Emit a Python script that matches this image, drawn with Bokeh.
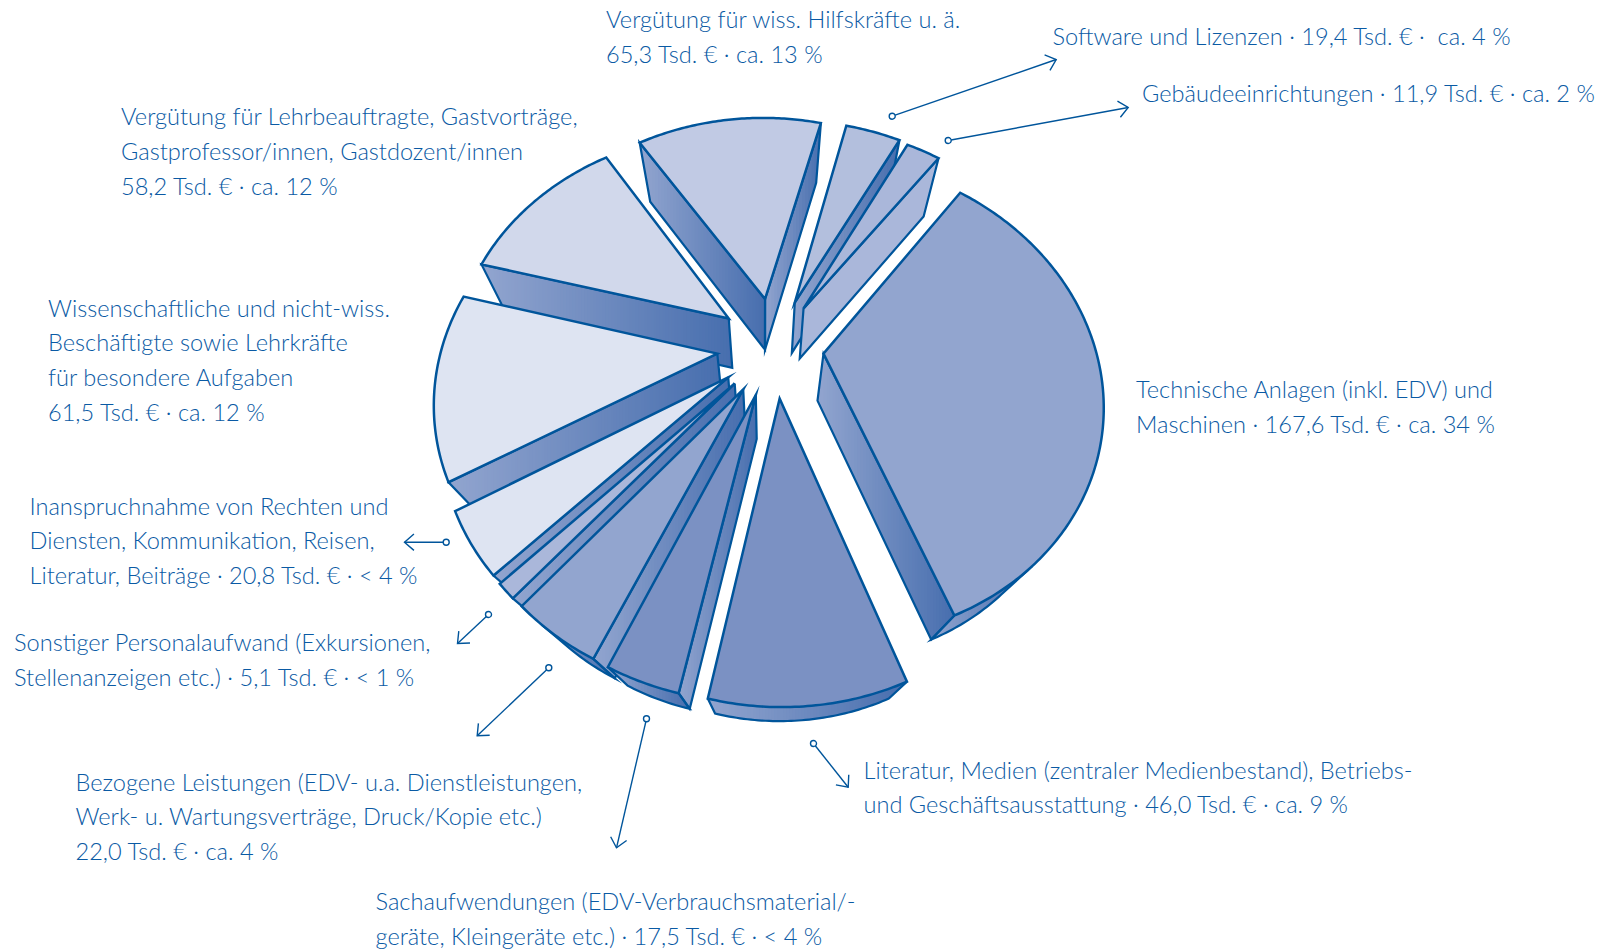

import numpy as np
from bokeh.plotting import figure
from bokeh.models import Range1d
from bokeh.core.properties import value
from bokeh.embed import file_html
from bokeh.resources import INLINE

# ---- data (clockwise, starting at the large slice) ----
categories = ["Technische Anlagen", "Literatur, Medien", "Sachaufwendungen", "Bezogene Leistungen",
              "Sonstiger Personalaufwand", "Inanspruchnahme", "Wiss. Beschäftigte", "Lehrbeauftragte",
              "Hilfskräfte", "Software", "Gebäudeeinrichtungen"]
values = [167.6, 46.0, 17.5, 22.0, 5.1, 20.8, 61.5, 58.2, 65.3, 19.4, 11.9]
top_colors = ["#92A5CF", "#7B91C3", "#7B91C3", "#92A5CF", "#AAB7DA", "#DEE4F2",
              "#DEE4F2", "#D1D8EB", "#C1CAE4", "#B3BFDD", "#AAB7DA"]
label_lines = [
    ["Technische Anlagen (inkl. EDV) und", "Maschinen · 167,6 Tsd. € · ca. 34 %"],
    ["Literatur, Medien (zentraler Medienbestand), Betriebs-", "und Geschäftsausstattung · 46,0 Tsd. € · ca. 9 %"],
    ["Sachaufwendungen (EDV-Verbrauchsmaterial/-", "geräte, Kleingeräte etc.) · 17,5 Tsd. € · < 4 %"],
    ["Bezogene Leistungen (EDV- u.a. Dienstleistungen,", "Werk- u. Wartungsverträge, Druck/Kopie etc.)", "22,0 Tsd. € · ca. 4 %"],
    ["Sonstiger Personalaufwand (Exkursionen,", "Stellenanzeigen etc.) · 5,1 Tsd. € · < 1 %"],
    ["Inanspruchnahme von Rechten und", "Diensten, Kommunikation, Reisen,", "Literatur, Beiträge · 20,8 Tsd. € · < 4 %"],
    ["Wissenschaftliche und nicht-wiss.", "Beschäftigte sowie Lehrkräfte", "für besondere Aufgaben", "61,5 Tsd. € · ca. 12 %"],
    ["Vergütung für Lehrbeauftragte, Gastvorträge,", "Gastprofessor/innen, Gastdozent/innen", "58,2 Tsd. € · ca. 12 %"],
    ["Vergütung für wiss. Hilfskräfte u. ä.", "65,3 Tsd. € · ca. 13 %"],
    ["Software und Lizenzen · 19,4 Tsd. € ·\u00a0 ca. 4 %"],
    ["Gebäudeeinrichtungen · 11,9 Tsd. € · ca. 2 %"],
]

# ---- layout (page pixels) ----
label_x = [1135.5, 863, 375, 75, 13.5, 29, 47.5, 120.5, 605.5, 1052, 1141.5]
label_y = [[388.5, 423.5], [769.5, 803.5], [900, 935], [781, 815.5, 850.5], [641, 676],
           [505.5, 539.5, 574.5], [307, 341, 376, 411], [115, 150, 185], [18.5, 53.5], [35], [92.5]]
leaders = [((891.7, 115.7), (1055.7, 59)), ((947.7, 140), (1127.7, 107)), ((445.7, 541.7), (404, 541.7)),
           ((488, 614), (457, 643)), ((548.3, 667.3), (476.7, 735.3)), ((646, 718.3), (616, 847.3)),
           ((813, 743), (847.7, 786.7))]
INK, TEXT = "#00559B", "#0A5AA4"
WALL_LIGHT, WALL_DARK = np.array([0x92, 0xA5, 0xCF]), np.array([0x47, 0x6E, 0xAE])

# projection of the pie's top plane, the slices' explosion, the extrusion's convergence
HOMO = [275.51, 145.82, 761.18, 5.2489, -167.3, 351.12, 0.0011837, 0.18421]
ROT0 = np.radians(53.90)
EXPL = [(0.225, -0.004), (0.067, -0.194), (-0.017, -0.181), (-0.062, -0.159), (-0.093, -0.136), (-0.117, -0.111),
        (-0.161, -0.012), (-0.126, 0.144), (0.008, 0.237), (0.121, 0.223), (0.154, 0.196)]
PAINT_ORDER = [8, 9, 10, 0, 7, 6, 5, 4, 3, 2, 1]
FLAT_WALL = {10: "#AAB7DA"}


def project(u, v):
    h = HOMO
    w = h[6] * u + h[7] * v + 1
    return np.column_stack([(h[0] * u + h[1] * v + h[2]) / w, (h[3] * u + h[4] * v + h[5]) / w])


def drop(P):
    x, y = P[:, 0], P[:, 1]
    dx = -(x - 764) * (0.085 + 0.00008 * (y - 150))
    dy = -6.454e-5 * y ** 2 - 0.02492 * y + 63.84
    return np.column_stack([x + dx, y + dy])


def clip_x(poly, lo):
    out = []
    for i in range(len(poly)):
        a, b = poly[i], poly[(i + 1) % len(poly)]
        ina, inb = a[0] >= lo, b[0] >= lo
        if ina:
            out.append(a)
        if ina != inb:
            t = (lo - a[0]) / (b[0] - a[0])
            out.append(a + t * (b - a))
    return out


def hexc(c):
    return "#%02X%02X%02X" % tuple(int(round(x)) for x in c)


p = figure(width=1611, height=949, output_backend="svg", toolbar_location=None,
           x_range=Range1d(0, 1611), y_range=Range1d(949, 0), min_border=0, outline_line_color=None)
p.axis.visible = False
p.grid.visible = False

vals = np.array(values)
sweeps = vals / vals.sum() * 2 * np.pi
starts = ROT0 - np.r_[0, np.cumsum(sweeps)[:-1]]

for i in PAINT_ORDER:
    a, b = starts[i], starts[i] - sweeps[i]
    n = max(8, int(np.degrees(sweeps[i]) * 1.5))
    t = np.linspace(a, b, n)
    dx, dy = EXPL[i]
    tip = project(np.array([dx]), np.array([dy]))
    arc = project(dx + np.cos(t), dy + np.sin(t))
    top = np.vstack([tip, arc])
    low = drop(top)
    area = 0.5 * np.sum(top[:, 0] * np.roll(top[:, 1], -1) - np.roll(top[:, 0], -1) * top[:, 1])

    def faces(j, k):
        e = top[k] - top[j]
        m = low[j] + low[k] - top[j] - top[k]
        return (e[0] * m[1] - e[1] * m[0]) * area < 0

    fill_xs, fill_ys, fill_c = [], [], []
    lines_x, lines_y = [], []

    def add_gradient(poly):
        if i in FLAT_WALL:
            fill_xs.append(list(poly[:, 0])); fill_ys.append(list(poly[:, 1])); fill_c.append(FLAT_WALL[i])
            return
        x0, x1 = poly[:, 0].min(), poly[:, 0].max()
        steps = max(2, int((x1 - x0) / 3))
        edges = np.linspace(x0, x1, steps + 1)
        for s in range(steps):
            part = clip_x(poly, edges[s])
            if len(part) >= 3:
                part = np.array(part)
                fill_xs.append(list(part[:, 0])); fill_ys.append(list(part[:, 1]))
                fill_c.append(hexc(WALL_LIGHT + (WALL_DARK - WALL_LIGHT) * (s + .5) / steps))

    # radial walls
    N = len(top)
    for j, k in [(0, 1), (N - 1, 0)]:
        if faces(j, k):
            quad = np.array([top[j], top[k], low[k], low[j]])
            add_gradient(quad)
            lines_x.append(list(quad[:, 0]) + [quad[0, 0]])
            lines_y.append(list(quad[:, 1]) + [quad[0, 1]])
    # outer wall
    vis = [j for j in range(1, N - 1) if faces(j, j + 1)]
    if vis:
        js = [vis[0]]
        runs = []
        for j in vis[1:]:
            if j == js[-1] + 1:
                js.append(j)
            else:
                runs.append(js); js = [j]
        runs.append(js)
        for run in runs:
            idx = run + [run[-1] + 1]
            poly = np.vstack([top[idx], low[idx][::-1]])
            add_gradient(poly)
            lines_x.append([top[idx[0], 0]] + list(low[idx, 0]) + [top[idx[-1], 0]])
            lines_y.append([top[idx[0], 1]] + list(low[idx, 1]) + [top[idx[-1], 1]])

    if fill_xs:
        p.patches(xs=fill_xs, ys=fill_ys, fill_color=fill_c, line_color=None)
    if lines_x:
        p.multi_line(xs=lines_x, ys=lines_y, line_color=INK, line_width=2.2, line_join="miter")
    p.patch(x=list(top[:, 0]), y=list(top[:, 1]), fill_color=top_colors[i], line_color=INK,
            line_width=2.5, line_join="miter")

# leaders
for (c, tipp) in leaders:
    c, tipp = np.array(c), np.array(tipp)
    ang = np.arctan2(*(c - tipp)[::-1])
    arm = 12.5
    hw = np.radians(41)
    a1 = tipp + arm * np.array([np.cos(ang + hw), np.sin(ang + hw)])
    a2 = tipp + arm * np.array([np.cos(ang - hw), np.sin(ang - hw)])
    p.line([c[0], tipp[0]], [c[1], tipp[1]], line_color=INK, line_width=1.4)
    p.line([a1[0], tipp[0], a2[0]], [a1[1], tipp[1], a2[1]], line_color=INK, line_width=1.4, line_join="miter")
    p.scatter([c[0]], [c[1]], marker="circle", size=6, fill_color="white", line_color=INK, line_width=1.4)

# labels
tx, ty, tt = [], [], []
for x, ys, lines in zip(label_x, label_y, label_lines):
    for y, s in zip(ys, lines):
        tx.append(x); ty.append(y); tt.append(s)
p.text(x=tx, y=ty, text=tt, text_font=value("Lato Light, Lato"), text_font_size="23.6px",
       text_color=TEXT, text_baseline="middle", text_align="left")

open("out.html", "w").write(file_html(p, INLINE))
